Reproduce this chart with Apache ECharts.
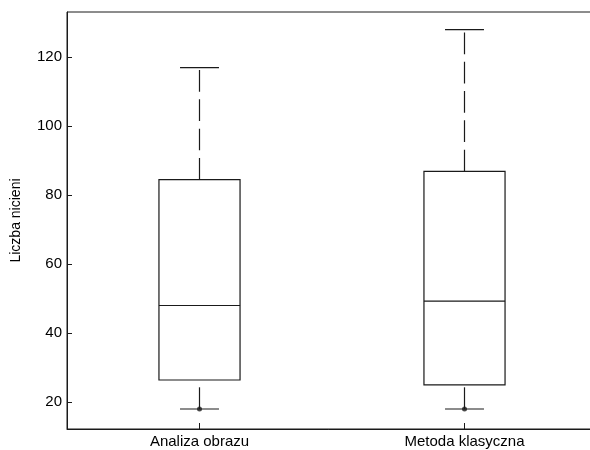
<!DOCTYPE html>
<html>
<head>
<meta charset="utf-8">
<script src="https://cdn.jsdelivr.net/npm/echarts@6/dist/echarts.min.js"></script>
<style>html,body{margin:0;padding:0;background:#fff}#c{width:590px;height:450px}</style>
</head>
<body>
<div id="c"></div>
<script>
const categories = ['Analiza obrazu', 'Metoda klasyczna'];
const whiskerLow = [18, 18];
const q1 = [26.4, 25];
const median = [48, 49.3];
const q3 = [84.5, 86.9];
const whiskerHigh = [117, 128];
const minPoints = [18, 18];
const yName = 'Liczba nicieni';

const INK = '#1a1a1a';
const FONT = '"Liberation Sans", Arial, sans-serif';

const boxData = categories.map((c, i) => [i, whiskerLow[i], q1[i], median[i], q3[i], whiskerHigh[i]]);
const dotData = categories.map((c, i) => [i, minPoints[i]]);

const chart = echarts.init(document.getElementById('c'), null, {renderer: 'canvas'});
chart.setOption({
  animation: false,
  backgroundColor: '#fff',
  grid: {left: 67, top: 12, width: 530, bottom: 21, outerBoundsMode: 'none', containLabel: false, show: true, borderColor: INK, borderWidth: 1, backgroundColor: 'transparent'},
  xAxis: {
    type: 'category',
    data: categories,
    boundaryGap: true,
    axisLine: {show: true, lineStyle: {color: INK, width: 1}},
    axisTick: {show: true, inside: true, length: 6, alignWithLabel: true, lineStyle: {color: INK}},
    axisLabel: {color: '#000', fontFamily: FONT, fontSize: 15, margin: 5},
    splitLine: {show: false}
  },
  yAxis: {
    type: 'value',
    min: 12.2,
    max: 133.1,
    splitNumber: 6,
    name: yName,
    nameLocation: 'middle',
    nameGap: 44,
    nameTextStyle: {color: '#000', fontFamily: FONT, fontSize: 14},
    axisLine: {show: true, lineStyle: {color: INK, width: 1}},
    axisTick: {show: true, inside: true, length: 5, lineStyle: {color: INK}},
    axisLabel: {color: '#000', fontFamily: FONT, fontSize: 15, margin: 5, showMinLabel: false, showMaxLabel: false},
    splitLine: {show: false}
  },
  series: [
    {
      type: 'custom',
      data: boxData,
      encode: {x: 0, y: [1, 2, 3, 4, 5]},
      renderItem: function (params, api) {
        const i = api.value(0);
        const band = api.size([1, 0])[0];
        const bw = band * 0.306, cw = band * 0.147;
        const pLo = api.coord([i, api.value(1)]);
        const pQ1 = api.coord([i, api.value(2)]);
        const pMed = api.coord([i, api.value(3)]);
        const pQ3 = api.coord([i, api.value(4)]);
        const pHi = api.coord([i, api.value(5)]);
        const x = pMed[0];
        const solid = {stroke: INK, lineWidth: 1.2, fill: null};
        const dashed = {stroke: INK, lineWidth: 1.2, fill: null, lineDash: [21.7, 7.6]};
        return {
          type: 'group',
          children: [
            {type: 'rect', shape: {x: x - bw / 2, y: pQ3[1], width: bw, height: pQ1[1] - pQ3[1]}, style: {stroke: INK, lineWidth: 1.2, fill: 'none'}},
            {type: 'line', shape: {x1: x - bw / 2, y1: pMed[1], x2: x + bw / 2, y2: pMed[1]}, style: solid},
            {type: 'line', shape: {x1: x, y1: pQ3[1], x2: x, y2: pHi[1]}, style: dashed},
            {type: 'line', shape: {x1: x, y1: pLo[1], x2: x, y2: pQ1[1]}, style: dashed},
            {type: 'line', shape: {x1: x - cw / 2, y1: pHi[1], x2: x + cw / 2, y2: pHi[1]}, style: solid},
            {type: 'line', shape: {x1: x - cw / 2, y1: pLo[1], x2: x + cw / 2, y2: pLo[1]}, style: solid}
          ]
        };
      }
    },
    {
      type: 'scatter',
      data: dotData,
      symbol: 'circle',
      symbolSize: 5,
      itemStyle: {color: INK},
      z: 5
    }
  ]
});
</script>
</body>
</html>
